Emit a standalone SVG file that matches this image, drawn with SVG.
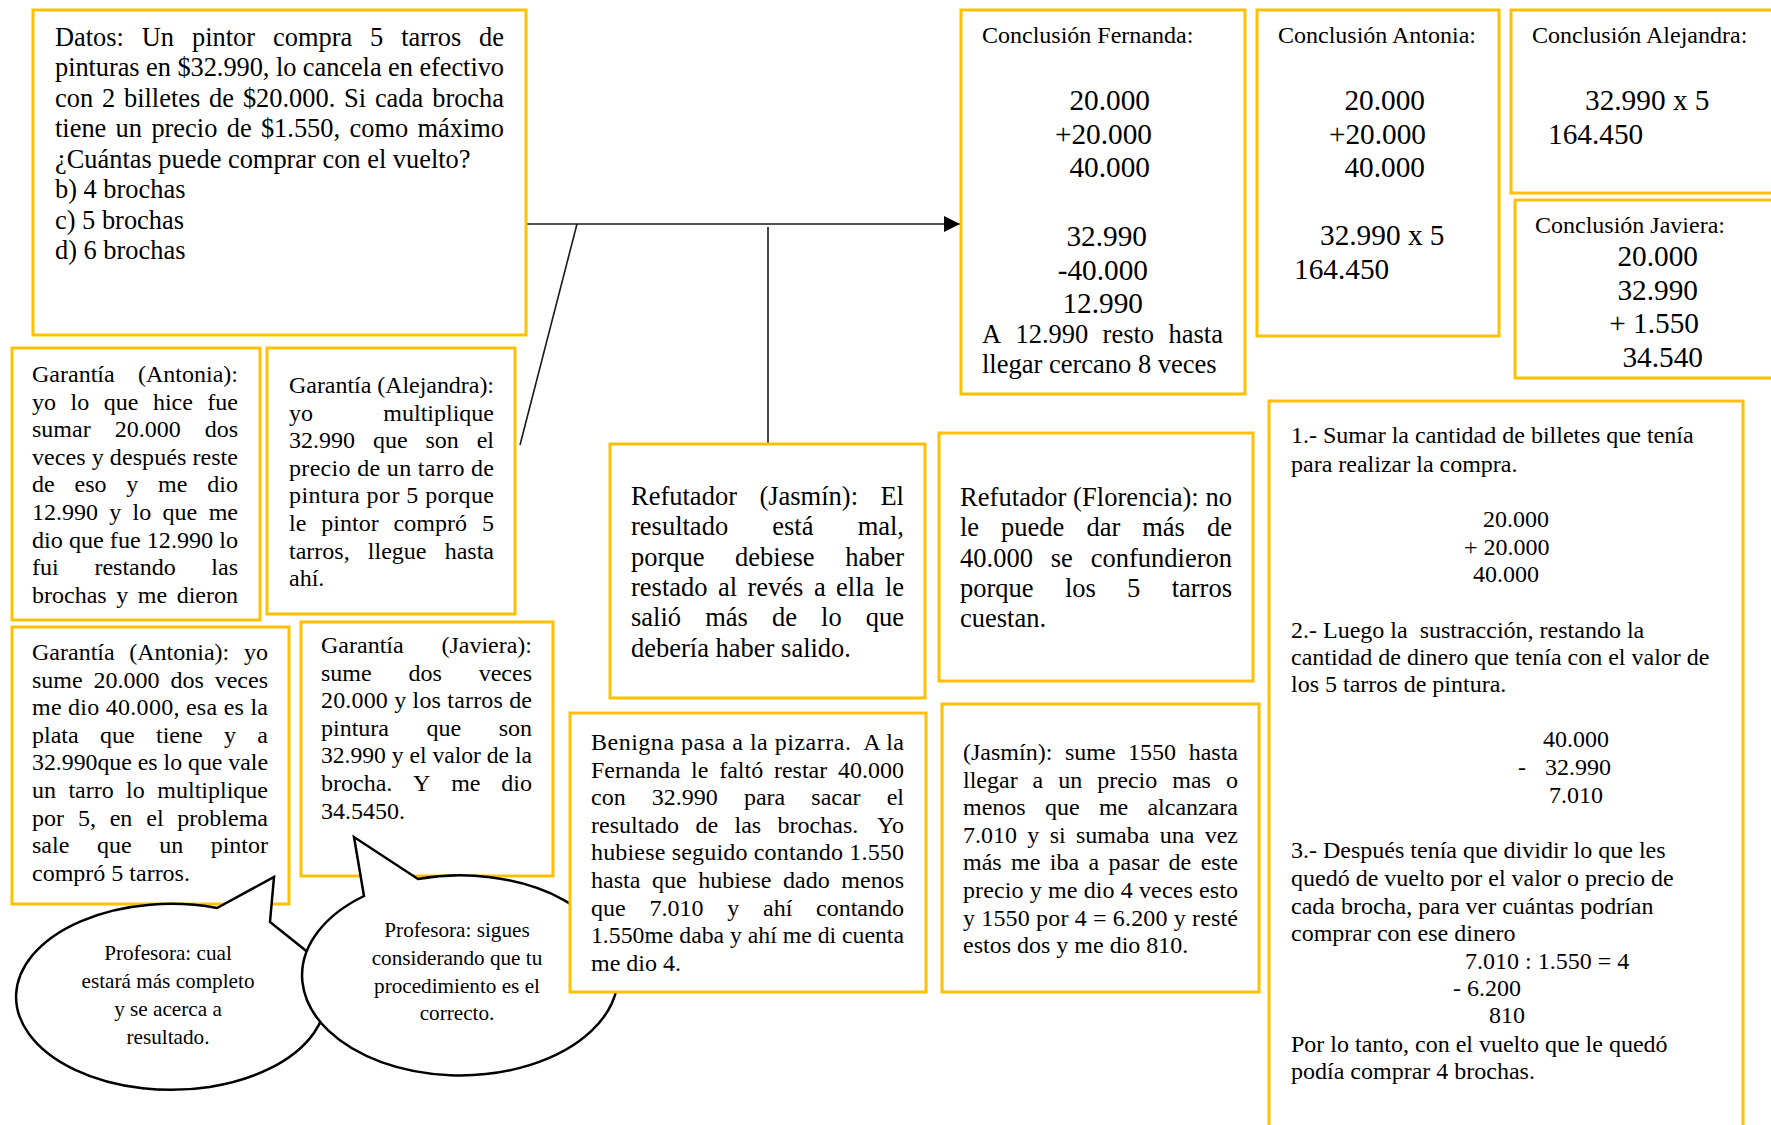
<svg xmlns="http://www.w3.org/2000/svg" width="1771" height="1125" viewBox="0 0 1771 1125">
<style>
.box{fill:#fff;stroke:#FFC000;stroke-width:3}
.bub{fill:#fff;stroke:#000;stroke-width:2.5;stroke-linejoin:miter}
.t{font-family:"Liberation Serif","Times New Roman",serif;fill:#000}
.s24{font-size:24px}
.s26{font-size:26.4px}
.s265{font-size:26.5px}
.s29{font-size:29.3px}
.s21{font-size:21.2px}
.c{text-anchor:middle}
.ln{stroke:#1a1a1a;stroke-width:1.6;fill:none}
</style>
<defs>
<marker id="arr" markerUnits="userSpaceOnUse" markerWidth="16" markerHeight="16" refX="16" refY="8" orient="auto">
<path d="M0,0 L16,8 L0,16 z" fill="#000"/>
</marker>
</defs>
<rect width="1771" height="1125" fill="#fff"/>

<g id="connectors">
<line class="ln" x1="526" y1="224" x2="960" y2="224" marker-end="url(#arr)"/>
<line class="ln" x1="577" y1="224" x2="520" y2="445"/>
<line class="ln" x1="768" y1="227" x2="768" y2="445"/>
</g>

<g id="datos">
<rect class="box" x="33" y="10" width="493" height="325"/>
<g class="t s26">
<text y="45.7"><tspan x="55">Datos:</tspan><tspan x="141.8">Un</tspan><tspan x="192">pintor</tspan><tspan x="273">compra</tspan><tspan x="370.1">5</tspan><tspan x="401.2">tarros</tspan><tspan x="504" text-anchor="end">de</tspan></text>
<text x="55" y="76" textLength="449" lengthAdjust="spacing">pinturas en $32.990, lo cancela en efectivo</text>
<text y="106.5"><tspan x="55">con</tspan><tspan x="101.9">2</tspan><tspan x="124">billetes</tspan><tspan x="209.1">de</tspan><tspan x="242.9">$20.000.</tspan><tspan x="344.1">Si</tspan><tspan x="374.9">cada</tspan><tspan x="504" text-anchor="end">brocha</tspan></text>
<text y="137"><tspan x="55">tiene</tspan><tspan x="115.6">un</tspan><tspan x="151.4">precio</tspan><tspan x="226.7">de</tspan><tspan x="260.9">$1.550,</tspan><tspan x="349.5">como</tspan><tspan x="504" text-anchor="end">máximo</tspan></text>
<text x="55" y="167.5">¿Cuántas puede comprar con el vuelto?</text>
<text x="55" y="198">b) 4 brochas</text>
<text x="55" y="228.5">c) 5 brochas</text>
<text x="55" y="259">d) 6 brochas</text>
</g>
</g>

<g id="conclusion-fernanda">
<rect class="box" x="961" y="10" width="284" height="384"/>
<text class="t s24" x="982" y="43">Conclusión Fernanda:</text>
<g class="t s29" text-anchor="end">
<text x="1150" y="110">20.000</text>
<text x="1152" y="143.5">+20.000</text>
<text x="1150" y="177">40.000</text>
<text x="1147" y="246">32.990</text>
<text x="1148" y="279.5">-40.000</text>
<text x="1143" y="313">12.990</text>
</g>
<g class="t s265">
<text y="343"><tspan x="982">A</tspan><tspan x="1015.4">12.990</tspan><tspan x="1102.6">resto</tspan><tspan x="1223" text-anchor="end">hasta</tspan></text>
<text x="982" y="373">llegar cercano 8 veces</text>
</g>
</g>

<g id="conclusion-antonia">
<rect class="box" x="1257" y="10" width="242" height="326"/>
<text class="t s24" x="1278" y="43">Conclusión Antonia:</text>
<g class="t s29">
<text x="1425" y="110" text-anchor="end">20.000</text>
<text x="1426" y="143.5" text-anchor="end">+20.000</text>
<text x="1425" y="177" text-anchor="end">40.000</text>
<text x="1320" y="245">32.990 x 5</text>
<text x="1294" y="278.5">164.450</text>
</g>
</g>

<g id="conclusion-alejandra">
<rect class="box" x="1511" y="10" width="274" height="183"/>
<text class="t s24" x="1532" y="43">Conclusión Alejandra:</text>
<g class="t s29">
<text x="1585" y="110">32.990 x 5</text>
<text x="1548" y="143.5">164.450</text>
</g>
</g>

<g id="conclusion-javiera">
<rect class="box" x="1515" y="200" width="270" height="178"/>
<text class="t s24" x="1535" y="233">Conclusión Javiera:</text>
<g class="t s29" text-anchor="end">
<text x="1698" y="266">20.000</text>
<text x="1698" y="299.5">32.990</text>
<text x="1699" y="333">+ 1.550</text>
<text x="1703" y="366.5">34.540</text>
</g>
</g>

<g id="pasos">
<rect class="box" x="1269" y="401" width="474" height="740"/>
<g class="t s24">
<text x="1291" y="443">1.- Sumar la cantidad de billetes que tenía</text>
<text x="1291" y="472">para realizar la compra.</text>
<text x="1483" y="527">20.000</text>
<text x="1464" y="555">+ 20.000</text>
<text x="1473" y="582">40.000</text>
<text x="1291" y="638" xml:space="preserve">2.- Luego la  sustracción, restando la</text>
<text x="1291" y="665">cantidad de dinero que tenía con el valor de</text>
<text x="1291" y="692">los 5 tarros de pintura.</text>
<text x="1543" y="747">40.000</text>
<text x="1518" y="775">-</text>
<text x="1545" y="775">32.990</text>
<text x="1549" y="803">7.010</text>
<text x="1291" y="858">3.- Después tenía que dividir lo que les</text>
<text x="1291" y="886">quedó de vuelto por el valor o precio de</text>
<text x="1291" y="914">cada brocha, para ver cuántas podrían</text>
<text x="1291" y="941">comprar con ese dinero</text>
<text x="1465" y="969">7.010 : 1.550 = 4</text>
<text x="1453" y="996">- 6.200</text>
<text x="1489" y="1023">810</text>
<text x="1291" y="1052">Por lo tanto, con el vuelto que le quedó</text>
<text x="1291" y="1079">podía comprar 4 brochas.</text>
</g>
</g>

<g id="garantia-antonia-1">
<rect class="box" x="12" y="348" width="248" height="272"/>
<g class="t s24">
<text y="382"><tspan x="32">Garantía</tspan><tspan x="238" text-anchor="end">(Antonia):</tspan></text>
<text y="409.6"><tspan x="32">yo</tspan><tspan x="70.5">lo</tspan><tspan x="103.7">que</tspan><tspan x="152.9">hice</tspan><tspan x="238" text-anchor="end">fue</tspan></text>
<text y="437.2"><tspan x="32">sumar</tspan><tspan x="114.7">20.000</tspan><tspan x="238" text-anchor="end">dos</tspan></text>
<text x="32" y="464.8" textLength="206" lengthAdjust="spacing">veces y después reste</text>
<text y="492.4"><tspan x="32">de</tspan><tspan x="74.5">eso</tspan><tspan x="126.3">y</tspan><tspan x="158.1">me</tspan><tspan x="238" text-anchor="end">dio</tspan></text>
<text y="520"><tspan x="32">12.990</tspan><tspan x="109.3">y</tspan><tspan x="132.6">lo</tspan><tspan x="162.6">que</tspan><tspan x="238" text-anchor="end">me</tspan></text>
<text x="32" y="547.6" textLength="206" lengthAdjust="spacingAndGlyphs">dio que fue 12.990 lo</text>
<text y="575.2"><tspan x="32">fui</tspan><tspan x="94.4">restando</tspan><tspan x="238" text-anchor="end">las</tspan></text>
<text y="602.8"><tspan x="32">brochas</tspan><tspan x="116.2">y</tspan><tspan x="137.8">me</tspan><tspan x="238" text-anchor="end">dieron</tspan></text>
</g>
</g>

<g id="garantia-alejandra">
<rect class="box" x="267" y="348" width="248" height="266"/>
<g class="t s24">
<text x="289" y="393" textLength="205" lengthAdjust="spacing">Garantía (Alejandra):</text>
<text y="420.6"><tspan x="289">yo</tspan><tspan x="494" text-anchor="end">multiplique</tspan></text>
<text y="448.2"><tspan x="289">32.990</tspan><tspan x="372.9">que</tspan><tspan x="425.5">son</tspan><tspan x="494" text-anchor="end">el</tspan></text>
<text x="289" y="475.8" textLength="205" lengthAdjust="spacing">precio de un tarro de</text>
<text x="289" y="503.4" textLength="205" lengthAdjust="spacing">pintura por 5 porque</text>
<text y="531"><tspan x="289">le</tspan><tspan x="321.3">pintor</tspan><tspan x="393.6">compró</tspan><tspan x="494" text-anchor="end">5</tspan></text>
<text y="558.6"><tspan x="289">tarros,</tspan><tspan x="367.8">llegue</tspan><tspan x="494" text-anchor="end">hasta</tspan></text>
<text x="289" y="586.2">ahí.</text>
</g>
</g>

<g id="garantia-antonia-2">
<rect class="box" x="12" y="627" width="277" height="277"/>
<g class="t s24">
<text y="660"><tspan x="32">Garantía</tspan><tspan x="129.3">(Antonia):</tspan><tspan x="268" text-anchor="end">yo</tspan></text>
<text y="687.6"><tspan x="32">sume</tspan><tspan x="93.6">20.000</tspan><tspan x="170.5">dos</tspan><tspan x="268" text-anchor="end">veces</tspan></text>
<text x="32" y="715.2" textLength="236" lengthAdjust="spacing">me dio 40.000, esa es la</text>
<text y="742.8"><tspan x="32">plata</tspan><tspan x="100">que</tspan><tspan x="156">tiene</tspan><tspan x="224">y</tspan><tspan x="268" text-anchor="end">a</tspan></text>
<text x="32" y="770.4" textLength="236" lengthAdjust="spacingAndGlyphs">32.990que es lo que vale</text>
<text y="798"><tspan x="32">un</tspan><tspan x="68.4">tarro</tspan><tspan x="126.1">lo</tspan><tspan x="268" text-anchor="end">multiplique</tspan></text>
<text y="825.6"><tspan x="32">por</tspan><tspan x="77.9">5,</tspan><tspan x="109.7">en</tspan><tspan x="146.3">el</tspan><tspan x="268" text-anchor="end">problema</tspan></text>
<text y="853.2"><tspan x="32">sale</tspan><tspan x="96.9">que</tspan><tspan x="159.2">un</tspan><tspan x="268" text-anchor="end">pintor</tspan></text>
<text x="32" y="880.8">compró 5 tarros.</text>
</g>
</g>

<g id="garantia-javiera">
<rect class="box" x="301" y="622" width="252" height="254"/>
<g class="t s24">
<text y="653"><tspan x="321">Garantía</tspan><tspan x="532" text-anchor="end">(Javiera):</tspan></text>
<text y="680.6"><tspan x="321">sume</tspan><tspan x="408.6">dos</tspan><tspan x="532" text-anchor="end">veces</tspan></text>
<text x="321" y="708.2" textLength="211" lengthAdjust="spacing">20.000 y los tarros de</text>
<text y="735.8"><tspan x="321">pintura</tspan><tspan x="426.5">que</tspan><tspan x="532" text-anchor="end">son</tspan></text>
<text x="321" y="763.4" textLength="211" lengthAdjust="spacingAndGlyphs">32.990 y el valor de la</text>
<text y="791"><tspan x="321">brocha.</tspan><tspan x="413.1">Y</tspan><tspan x="451.2">me</tspan><tspan x="532" text-anchor="end">dio</tspan></text>
<text x="321" y="818.6">34.5450.</text>
</g>
</g>

<g id="refutador-jasmin">
<rect class="box" x="610" y="444" width="315" height="254"/>
<g class="t s265">
<text y="505"><tspan x="631">Refutador</tspan><tspan x="759.4">(Jasmín):</tspan><tspan x="904" text-anchor="end">El</tspan></text>
<text y="535.3"><tspan x="631">resultado</tspan><tspan x="772.3">está</tspan><tspan x="904" text-anchor="end">mal,</tspan></text>
<text y="565.6"><tspan x="631">porque</tspan><tspan x="735.1">debiese</tspan><tspan x="904" text-anchor="end">haber</tspan></text>
<text y="595.9"><tspan x="631">restado</tspan><tspan x="718">al</tspan><tspan x="747.5">revés</tspan><tspan x="813.9">a</tspan><tspan x="836.1">ella</tspan><tspan x="904" text-anchor="end">le</tspan></text>
<text y="626.2"><tspan x="631">salió</tspan><tspan x="705.2">más</tspan><tspan x="772">de</tspan><tspan x="821.1">lo</tspan><tspan x="904" text-anchor="end">que</tspan></text>
<text x="631" y="656.5">debería haber salido.</text>
</g>
</g>

<g id="refutador-florencia">
<rect class="box" x="939" y="433" width="314" height="248"/>
<g class="t s265">
<text x="960" y="506" textLength="272" lengthAdjust="spacing">Refutador (Florencia): no</text>
<text y="536.3"><tspan x="960">le</tspan><tspan x="1001.1">puede</tspan><tspan x="1086.4">dar</tspan><tspan x="1142.2">más</tspan><tspan x="1232" text-anchor="end">de</tspan></text>
<text y="566.6"><tspan x="960">40.000</tspan><tspan x="1050.8">se</tspan><tspan x="1232" text-anchor="end">confundieron</tspan></text>
<text y="596.9"><tspan x="960">porque</tspan><tspan x="1064.9">los</tspan><tspan x="1127.1">5</tspan><tspan x="1232" text-anchor="end">tarros</tspan></text>
<text x="960" y="627.2">cuestan.</text>
</g>
</g>

<g id="jasmin-2">
<rect class="box" x="942" y="704" width="317" height="288"/>
<g class="t s24">
<text y="760"><tspan x="963">(Jasmín):</tspan><tspan x="1064.9">sume</tspan><tspan x="1128.1">1550</tspan><tspan x="1238" text-anchor="end">hasta</tspan></text>
<text y="787.6"><tspan x="963">llegar</tspan><tspan x="1032.6">a</tspan><tspan x="1058.3">un</tspan><tspan x="1097.3">precio</tspan><tspan x="1172.3">mas</tspan><tspan x="1238" text-anchor="end">o</tspan></text>
<text y="815.2"><tspan x="963">menos</tspan><tspan x="1044.9">que</tspan><tspan x="1098.9">me</tspan><tspan x="1238" text-anchor="end">alcanzara</tspan></text>
<text y="842.8"><tspan x="963">7.010</tspan><tspan x="1027.3">y</tspan><tspan x="1049.7">si</tspan><tspan x="1076">sumaba</tspan><tspan x="1159.7">una</tspan><tspan x="1238" text-anchor="end">vez</tspan></text>
<text y="870.4"><tspan x="963">más</tspan><tspan x="1011.1">me</tspan><tspan x="1049.8">iba</tspan><tspan x="1088.5">a</tspan><tspan x="1108.6">pasar</tspan><tspan x="1168.6">de</tspan><tspan x="1238" text-anchor="end">este</tspan></text>
<text x="963" y="898" textLength="275" lengthAdjust="spacing">precio y me dio 4 veces esto</text>
<text x="963" y="925.6" textLength="275" lengthAdjust="spacing">y 1550 por 4 = 6.200 y resté</text>
<text x="963" y="953.2">estos dos y me dio 810.</text>
</g>
</g>

<g id="profesora-1">
<path class="bub" d="M217,908 L274,877 L270,922 L305,950 A155,93 0 1 1 217,908 Z"/>
<g class="t s21 c">
<text x="168" y="960">Profesora: cual</text>
<text x="168" y="988">estará más completo</text>
<text x="168" y="1016">y se acerca a</text>
<text x="168" y="1044">resultado.</text>
</g>
</g>

<g id="profesora-2">
<path class="bub" d="M418,879 L354,837 L364,896 A158,100 0 1 0 418,879 Z"/>
<g class="t s21 c">
<text x="457" y="937">Profesora: sigues</text>
<text x="457" y="965">considerando que tu</text>
<text x="457" y="992.5">procedimiento es el</text>
<text x="457" y="1020">correcto.</text>
</g>
</g>

<g id="benigna">
<rect class="box" x="570" y="713" width="356" height="279"/>
<g class="t s24">
<text x="591" y="750" textLength="313" lengthAdjust="spacing" xml:space="preserve">Benigna pasa a la pizarra.  A la</text>
<text y="777.6"><tspan x="591">Fernanda</tspan><tspan x="691.1">le</tspan><tspan x="719.2">faltó</tspan><tspan x="773.9">restar</tspan><tspan x="904" text-anchor="end">40.000</tspan></text>
<text y="805.2"><tspan x="591">con</tspan><tspan x="651.8">32.990</tspan><tspan x="743.9">para</tspan><tspan x="811.3">sacar</tspan><tspan x="904" text-anchor="end">el</tspan></text>
<text y="832.8"><tspan x="591">resultado</tspan><tspan x="695.4">de</tspan><tspan x="734.5">las</tspan><tspan x="777.6">brochas.</tspan><tspan x="904" text-anchor="end">Yo</tspan></text>
<text x="591" y="860.4" textLength="313" lengthAdjust="spacing">hubiese seguido contando 1.550</text>
<text y="888"><tspan x="591">hasta</tspan><tspan x="651.9">que</tspan><tspan x="698.2">hubiese</tspan><tspan x="783.1">dado</tspan><tspan x="904" text-anchor="end">menos</tspan></text>
<text y="915.6"><tspan x="591">que</tspan><tspan x="649.5">7.010</tspan><tspan x="727.2">y</tspan><tspan x="763">ahí</tspan><tspan x="904" text-anchor="end">contando</tspan></text>
<text x="591" y="943.2" textLength="313" lengthAdjust="spacingAndGlyphs">1.550me daba y ahí me di cuenta</text>
<text x="591" y="970.8">me dio 4.</text>
</g>
</g>
</svg>
